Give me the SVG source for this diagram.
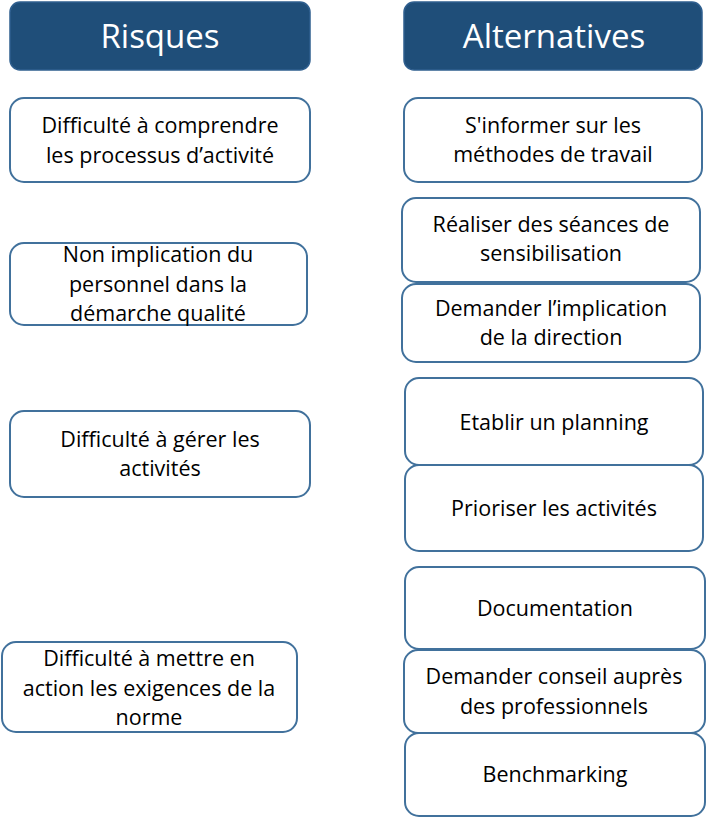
<svg xmlns="http://www.w3.org/2000/svg" width="706" height="818" viewBox="0 0 706 818">
<style>
.hdr{fill:#1F4E79;stroke:#2F5F8F;stroke-width:1.5}
.box{fill:#FFFFFF;stroke:#41719C;stroke-width:2}
.ht{font-family:"Open Sans",Lato,sans-serif;font-size:33px;fill:#FFFFFF;text-anchor:middle}
.t{font-family:"Open Sans",Lato,sans-serif;font-size:21.5px;fill:#000000;text-anchor:middle}
</style>
<rect width="706" height="818" fill="#FFFFFF"/>
<g id="h-risques"><rect class="hdr" x="10" y="2" width="300" height="68" rx="10"/><text class="ht" x="160" y="48">Risques</text></g>
<g id="h-alternatives"><rect class="hdr" x="404" y="2" width="298" height="68" rx="10"/><text class="ht" x="554" y="48">Alternatives</text></g>
<g id="r1"><rect class="box" x="10" y="98" width="300" height="84" rx="14"/><text class="t" x="160" y="133">Difficulté à comprendre</text><text class="t" x="160" y="163">les processus d’activité</text></g>
<g id="r2"><rect class="box" x="10" y="243" width="297" height="82" rx="14"/><text class="t" x="158" y="262">Non implication du</text><text class="t" x="158" y="292">personnel dans la</text><text class="t" x="158" y="321">démarche qualité</text></g>
<g id="r3"><rect class="box" x="10" y="411" width="300" height="86" rx="14"/><text class="t" x="160" y="447">Difficulté à gérer les</text><text class="t" x="160" y="476">activités</text></g>
<g id="r4"><rect class="box" x="2" y="642" width="295" height="90" rx="14"/><text class="t" x="149" y="666">Difficulté à mettre en</text><text class="t" x="149" y="696">action les exigences de la</text><text class="t" x="149" y="725">norme</text></g>
<g id="a1"><rect class="box" x="404" y="98" width="298" height="84" rx="14"/><text class="t" x="553" y="133">S'informer sur les</text><text class="t" x="553" y="162">méthodes de travail</text></g>
<g id="a2"><rect class="box" x="402" y="198" width="298" height="84" rx="14"/><text class="t" x="551" y="232">Réaliser des séances de</text><text class="t" x="551" y="261">sensibilisation</text></g>
<g id="a3"><rect class="box" x="402" y="284" width="298" height="78" rx="14"/><text class="t" x="551" y="316">Demander l’implication</text><text class="t" x="551" y="345">de la direction</text></g>
<g id="a4"><rect class="box" x="405" y="378" width="298" height="87" rx="14"/><text class="t" x="554" y="430">Etablir un planning</text></g>
<g id="a5"><rect class="box" x="405" y="465" width="298" height="86" rx="14"/><text class="t" x="554" y="516">Prioriser les activités</text></g>
<g id="a6"><rect class="box" x="405" y="567" width="300" height="82" rx="14"/><text class="t" x="555" y="616">Documentation</text></g>
<g id="a7"><rect class="box" x="404" y="650" width="301" height="83" rx="14"/><text class="t" x="554" y="684">Demander conseil auprès</text><text class="t" x="554" y="714">des professionnels</text></g>
<g id="a8"><rect class="box" x="405" y="733" width="300" height="83" rx="14"/><text class="t" x="555" y="782">Benchmarking</text></g>
<g id="connectors"></g>
</svg>
